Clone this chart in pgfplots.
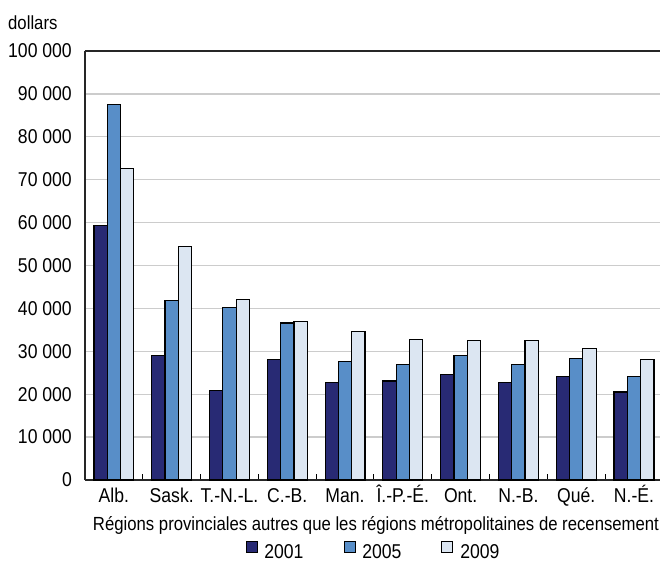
\documentclass[border=0pt]{standalone}
\usepackage{fontspec}
\setmainfont{Liberation Sans}[FakeStretch=0.88]
\usepackage{pgfplots}
\pgfplotsset{compat=1.18}

\definecolor{cOne}{RGB}{40,42,116}
\definecolor{cTwo}{RGB}{88,142,200}
\definecolor{cThree}{RGB}{220,230,242}
\newcommand{\fsz}{\fontsize{19bp}{22bp}\selectfont}
\newcommand{\tsz}{\fontsize{20bp}{23bp}\selectfont}

\begin{document}
\begin{tikzpicture}[font=\fsz]
\begin{axis}[
    at={(0,0)}, anchor=south west,
    scale only axis, width=575bp, height=429bp,
    ybar=0pt, bar width=13.3bp,
    xmin=-0.5, xmax=9.45, ymin=0, ymax=100000,
    axis x line*=bottom, axis y line*=left,
    axis line style={line width=1.4bp, black!85},
    tick align=inside,
    xtick={0,...,9},
    xticklabels={Alb.,Sask.,T.-N.-L.,C.-B.,Man.,Î.-P.-É.,Ont.,N.-B.,Qué.,N.-É.},
    minor xtick={0.5,1.5,...,8.5},
    major tick length=0pt, minor tick length=6bp,
    minor x tick style={black, line width=1bp},
    ytick={0,10000,...,100000},
    scaled y ticks=false,
    yticklabels={0,10 000,20 000,30 000,40 000,50 000,60 000,70 000,80 000,90 000,100 000},
    ymajorgrids, grid style={line width=1.4bp, black!20},
    tick label style={font=\tsz},
    yticklabel style={anchor=east, inner sep=0pt, xshift=-13bp},
    xticklabel style={anchor=base, inner sep=0pt, yshift=-22bp},
    legend columns=3,
    legend image code/.code={\draw[#1, line width=0.8bp] (0bp,0bp) rectangle (11bp,11bp);},
    legend style={draw=none, fill=none, font=\tsz, at={(0.5,-0.1865)}, anchor=south,
        inner sep=0pt, nodes={inner sep=0pt},
        /tikz/every odd column/.append style={column sep=7bp},
        /tikz/every even column/.append style={column sep=40bp}},
]
\addplot[fill=cOne, draw=black, line width=1.2bp] coordinates {
    (0,59400) (1,29100) (2,20900) (3,28000) (4,22800)
    (5,23100) (6,24600) (7,22800) (8,24200) (9,20500)};
\addplot[fill=cTwo, draw=black, line width=1.2bp] coordinates {
    (0,87600) (1,41800) (2,40300) (3,36600) (4,27700)
    (5,26900) (6,29100) (7,26900) (8,28400) (9,24200)};
\addplot[fill=cThree, draw=black, line width=1.2bp] coordinates {
    (0,72700) (1,54500) (2,42100) (3,36900) (4,34700)
    (5,32800) (6,32500) (7,32500) (8,30600) (9,28000)};
\legend{2001,2005,2009}
\draw[line width=1.4bp, black!85] (rel axis cs:0,1) -- (rel axis cs:1,1);
\end{axis}
\node[anchor=base west, inner sep=0pt] at (-77bp,450bp) {dollars};
\node[anchor=base, inner sep=0pt] at (291bp,-50bp)
    {Régions provinciales autres que les régions métropolitaines de recensement};
\pgfresetboundingbox
\useasboundingbox (-85bp,-81bp) rectangle (575bp,480bp);
\end{tikzpicture}
\end{document}
